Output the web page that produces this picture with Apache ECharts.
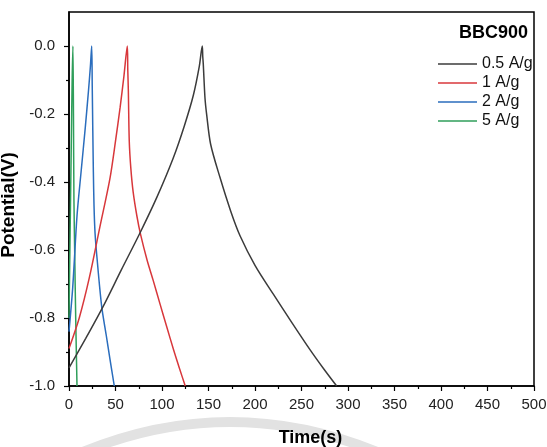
<!DOCTYPE html>
<html>
<head>
<meta charset="utf-8">
<script src="https://cdn.jsdelivr.net/npm/echarts@6/dist/echarts.min.js"></script>
<style>
  html, body { margin: 0; padding: 0; background: #ffffff; }
  #chart { width: 547px; height: 447px; }
</style>
</head>
<body>
<div id="chart"></div>
<script>
// Galvanostatic charge/discharge curves of BBC900 at four current densities
const seriesNames = ['0.5 A/g', '1 A/g', '2 A/g', '5 A/g'];
const seriesColors = ['#3b3b3b', '#d8373b', '#2a6dbd', '#2f9e5a'];

// 0.5 A/g
const time05 = [0, 18, 36.9, 56, 76.3, 94.3, 112, 124, 133.7, 140.1, 143.3,
  143.8, 144.4, 146.2, 148, 152.3, 162.4, 173.8, 183.9, 200, 219.7, 240, 259.1, 274, 287.8];
const pot05 = [-0.947, -0.86, -0.765, -0.66, -0.55, -0.446, -0.33, -0.235, -0.145, -0.06, 0,
  -0.03, -0.054, -0.152, -0.201, -0.289, -0.387, -0.485, -0.558, -0.645, -0.73, -0.815, -0.893, -0.95, -1.0];

// 1 A/g
const time1 = [0, 11, 22, 33, 44, 50, 55, 59, 62.7,
  63.2, 63.8, 64.8, 66.5, 69, 73, 77, 84, 90.6, 98, 105, 112.6, 119, 125];
const pot1 = [-0.89, -0.8, -0.68, -0.535, -0.39, -0.28, -0.18, -0.09, 0,
  -0.07, -0.13, -0.28, -0.36, -0.43, -0.5, -0.555, -0.63, -0.69, -0.76, -0.825, -0.895, -0.95, -1.0];

// 2 A/g
const time2 = [0, 4, 8.6, 13, 17.5, 21, 23, 24.4,
  25, 25.6, 26.2, 26.9, 28, 30, 35.1, 40, 44, 48.7];
const pot2 = [-0.84, -0.71, -0.5, -0.37, -0.24, -0.13, -0.06, 0,
  -0.12, -0.25, -0.37, -0.47, -0.55, -0.62, -0.765, -0.85, -0.92, -1.0];

// 5 A/g
const time5 = [0, 1.2, 2.4, 3.4, 4.2, 4.8, 5.3, 6.2, 7.2, 8.6];
const pot5 = [-0.8, -0.55, -0.3, -0.1, 0, -0.2, -0.45, -0.62, -0.8, -1.0];

const xTicks = [0, 50, 100, 150, 200, 250, 300, 350, 400, 450, 500];
const yTicks = [-1.0, -0.8, -0.6, -0.4, -0.2, 0.0];

const allTimes = [time05, time1, time2, time5];
const allPots = [pot05, pot1, pot2, pot5];

const series = seriesNames.map((name, i) => ({
  name: name,
  type: 'line',
  symbol: 'none',
  smooth: 0.3,
  data: allTimes[i].map((t, k) => [t, allPots[i][k]]),
  lineStyle: { color: seriesColors[i], width: 1.5 },
  itemStyle: { color: seriesColors[i] },
  z: 10 - i
}));

const font = '"Liberation Sans", Arial, sans-serif';

const chart = echarts.init(document.getElementById('chart'), null, { renderer: 'canvas' });
chart.setOption({
  backgroundColor: '#ffffff',
  animation: false,
  title: {
    text: 'BBC900',
    right: 14,
    top: 18,
    textStyle: { fontFamily: font, fontSize: 18, fontWeight: 'bold', color: '#000', lineHeight: 20 }
  },
  legend: {
    orient: 'vertical',
    left: 433,
    top: 50,
    icon: 'rect',
    itemWidth: 39,
    itemHeight: 1.6,
    itemGap: 1,
    data: seriesNames,
    textStyle: { fontFamily: font, fontSize: 16, color: '#111', lineHeight: 18 }
  },
  grid: {
    left: 69, right: 13, top: 12, bottom: 61,
    outerBoundsMode: 'none',
    show: true, borderColor: '#000', borderWidth: 1.5,
    containLabel: false
  },
  xAxis: {
    type: 'value',
    min: 0, max: 500, interval: 50,
    name: 'Time(s)',
    nameLocation: 'middle',
    nameGap: 43,
    nameTextStyle: { fontFamily: font, fontSize: 18, fontWeight: 'bold', color: '#000', padding: [0, 0, 0, 18] },
    axisLine: { show: true, onZero: false, lineStyle: { color: '#000', width: 1.5 } },
    axisTick: { show: true, inside: false, length: 5, lineStyle: { color: '#000', width: 1.2 }, customValues: xTicks },
    minorTick: { show: true, splitNumber: 2, length: 3, lineStyle: { color: '#000', width: 1.2 } },
    axisLabel: { fontFamily: font, fontSize: 15, color: '#222', margin: 11, customValues: xTicks },
    splitLine: { show: false }
  },
  yAxis: {
    type: 'value',
    min: -1.0, max: 0.1, interval: 0.2,
    name: 'Potential(V)',
    nameLocation: 'middle',
    nameGap: 41,
    nameTextStyle: { fontFamily: font, fontSize: 19, fontWeight: 'bold', color: '#000', padding: [0, 12, 0, 0] },
    axisLine: { show: true, onZero: false, lineStyle: { color: '#000', width: 1.5 } },
    axisTick: { show: true, inside: false, length: 5, lineStyle: { color: '#000', width: 1.2 }, customValues: yTicks },
    minorTick: { show: true, splitNumber: 2, length: 3, lineStyle: { color: '#000', width: 1.2 } },
    axisLabel: {
      fontFamily: font, fontSize: 15, color: '#222', margin: 14,
      customValues: yTicks,
      formatter: v => v.toFixed(1)
    },
    splitLine: { show: false }
  },
  graphic: [{
    type: 'bezierCurve',
    silent: true,
    z: -10,
    shape: { x1: 60, y1: 462, cpx1: 230, cpy1: 382, x2: 400, y2: 462 },
    style: { stroke: '#e2e2e2', lineWidth: 10, fill: null }
  }],
  series: series
});
</script>
</body>
</html>
